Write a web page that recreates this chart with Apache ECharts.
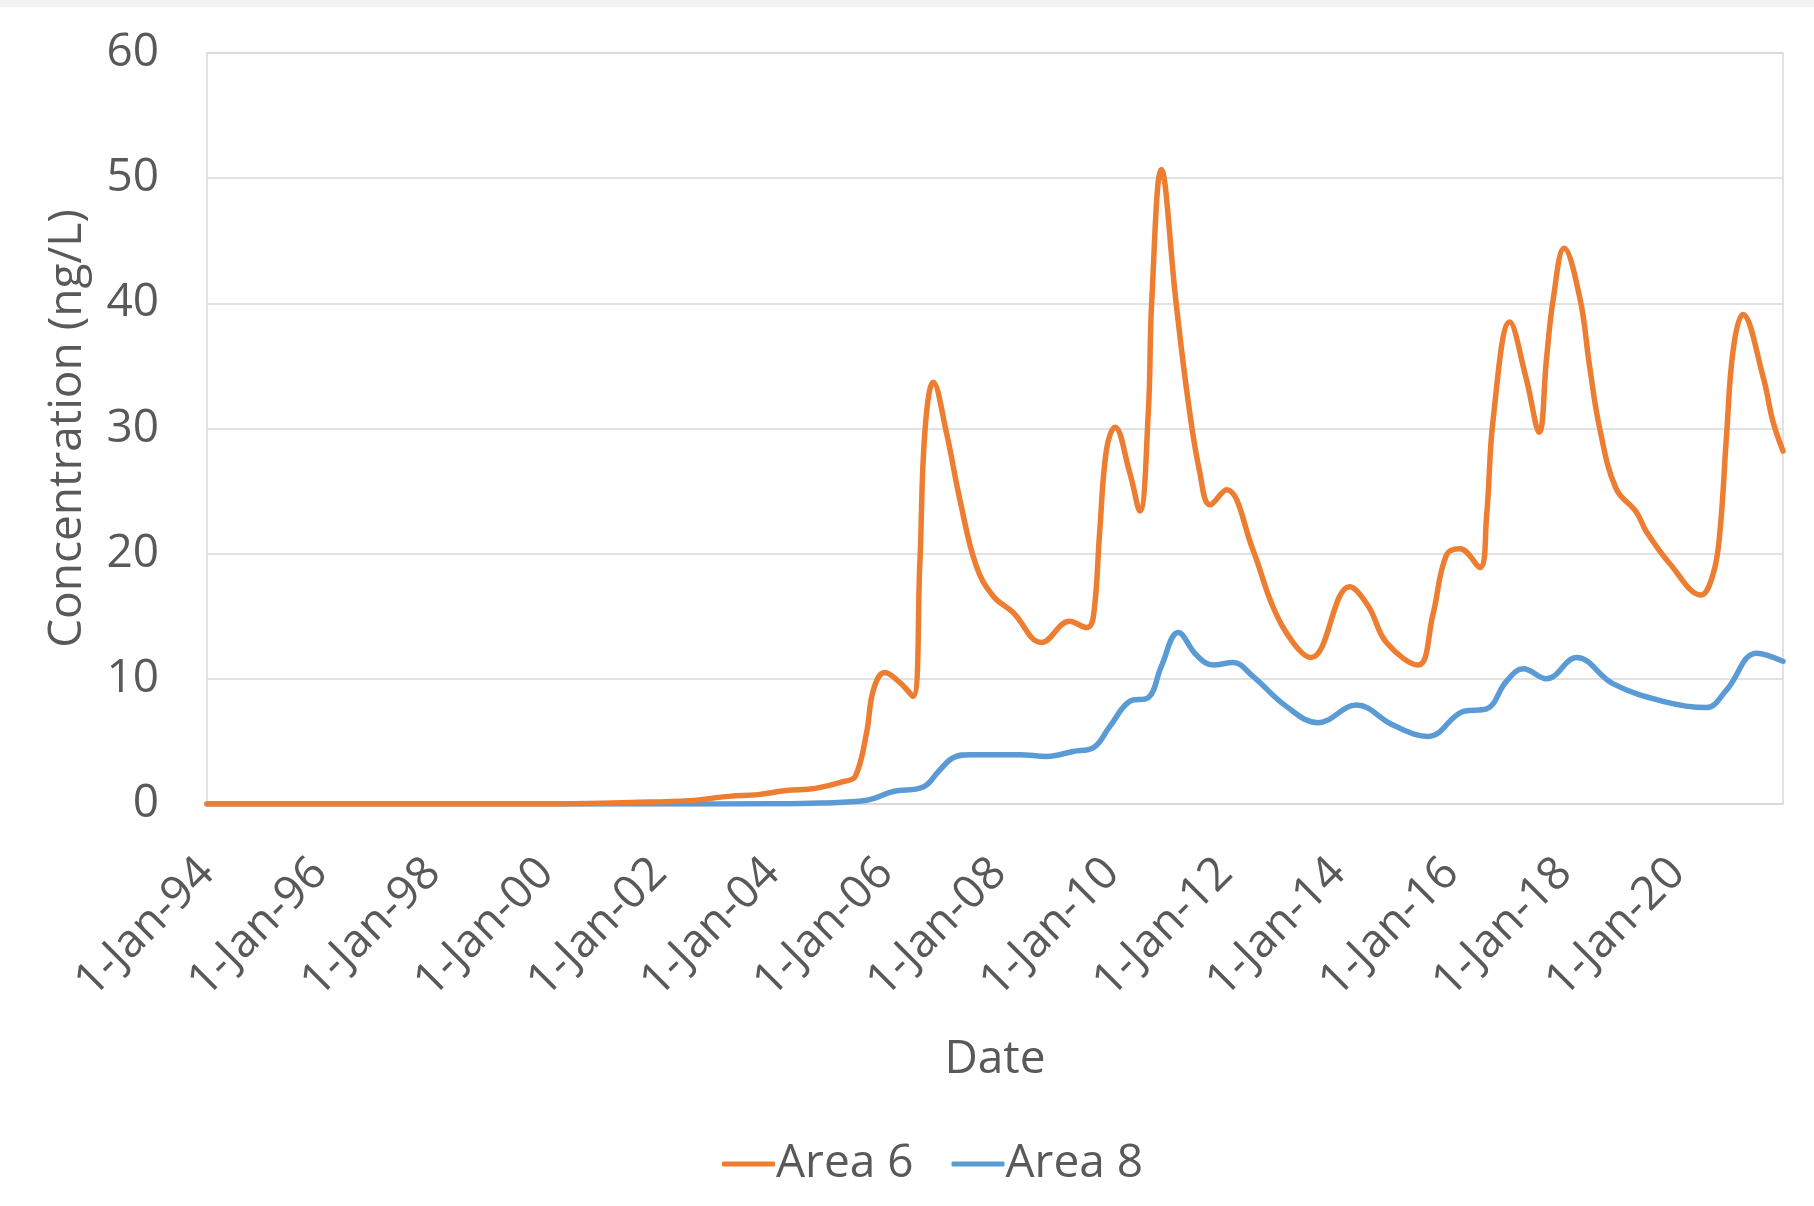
<!DOCTYPE html>
<html>
<head>
<meta charset="utf-8">
<title>Concentration over time</title>
<script src="https://cdn.jsdelivr.net/npm/echarts@6/dist/echarts.min.js"></script>
<style>
  html, body { margin: 0; padding: 0; background: #ffffff; }
  #chart { width: 1814px; height: 1206px; }
</style>
</head>
<body>
<div id="chart"></div>
<script>
// Sampling dates as decimal years, with concentrations in ng/L
const area6Years = [1994.0, 1996.0, 1998.0, 2000.0, 2000.5, 2001.5, 2002.52, 2003.23, 2003.74, 2004.24,
  2004.75, 2005.26, 2005.46, 2005.66, 2005.78, 2005.98, 2006.25, 2006.48, 2006.6, 2006.69,
  2006.84, 2007.07, 2007.31, 2007.6, 2007.9, 2008.25, 2008.75, 2009.25, 2009.55, 2009.67,
  2009.78, 2009.9, 2010.05, 2010.31, 2010.49, 2010.64, 2010.7, 2010.87, 2011.13, 2011.35,
  2011.55, 2011.73, 2012.02, 2012.49, 2012.84, 2013.2, 2013.52, 2014.2, 2014.53, 2014.85,
  2015.41, 2015.67, 2015.91, 2016.15, 2016.5, 2016.62, 2016.74, 2017.03, 2017.32, 2017.55,
  2017.68, 2017.8, 2017.99, 2018.27, 2018.44, 2018.62, 2018.91, 2019.27, 2019.44, 2019.86,
  2020.41, 2020.62, 2020.74, 2020.86, 2020.98, 2021.15, 2021.51, 2021.68, 2021.86];
const area6Values = [0, 0, 0, 0, 0.02, 0.12, 0.27, 0.61, 0.75, 1.07,
  1.25, 1.8, 2.2, 5.7, 9.1, 10.5, 9.7, 8.6, 19.0, 29.7,
  33.7, 29.7, 24.3, 19.0, 16.6, 15.3, 12.9, 14.6, 14.1, 15.0,
  21.7, 28.3, 30.1, 26.5, 23.4, 31.3, 40.1, 50.7, 40.1, 32.0,
  26.5, 23.9, 25.1, 20.3, 15.8, 12.9, 11.7, 17.35, 15.8, 12.9,
  11.1, 15.1, 19.9, 20.4, 18.9, 23.0, 30.9, 38.5, 34.0, 29.7,
  35.6, 40.4, 44.4, 40.4, 35.0, 30.0, 25.2, 23.3, 21.8, 19.2,
  16.7, 18.3, 21.5, 29.3, 36.3, 39.1, 34.1, 30.6, 28.2];

const area8Years = [1994.0, 1998.0, 2002.0, 2004.0, 2004.83, 2005.66, 2006.13, 2006.66, 2006.95, 2007.19,
  2007.49, 2008.37, 2008.84, 2009.31, 2009.67, 2009.96, 2010.31, 2010.64, 2010.87, 2011.17,
  2011.49, 2011.79, 2012.14, 2012.49, 2013.08, 2013.64, 2014.32, 2014.97, 2015.59, 2016.21,
  2016.62, 2016.97, 2017.27, 2017.68, 2018.21, 2018.86, 2019.74, 2020.5, 2020.86, 2021.39,
  2021.86];
const area8Values = [0, 0, 0, 0.02, 0.08, 0.3, 1.0, 1.36, 2.7, 3.7,
  3.94, 3.94, 3.8, 4.2, 4.5, 6.2, 8.2, 8.5, 11.0, 13.7,
  11.9, 11.1, 11.3, 10.2, 7.8, 6.5, 7.9, 6.3, 5.4, 7.4,
  7.6, 9.8, 10.8, 10.0, 11.7, 9.6, 8.2, 7.7, 9.1, 12.05,
  11.4];

const seriesNames = ['Area 6', 'Area 8'];
const yTicks = [0, 10, 20, 30, 40, 50, 60];
const xStart = 1994;
const xEnd = 2021.86;

const pair = (xs, ys) => xs.map((x, i) => [x, ys[i]]);

const textColor = '#595959';
const fontFamily = '"Open Sans", "Noto Sans", sans-serif';
const gridColor = '#d9d9d9';

const chart = echarts.init(document.getElementById('chart'), null, { renderer: 'canvas' });

chart.setOption({
  backgroundColor: '#ffffff',
  animation: false,
  graphic: [{
    type: 'rect',
    left: 0, top: 0,
    shape: { width: 1814, height: 7 },
    style: { fill: '#f2f2f2' }
  }],
  grid: {
    left: 207, right: 31, top: 53, bottom: 402,
    show: true,
    borderColor: gridColor,
    borderWidth: 1.5
  },
  legend: {
    data: seriesNames,
    left: 717,
    top: 1136,
    itemWidth: 53,
    itemHeight: 5,
    itemGap: 38,
    icon: 'roundRect',
    textStyle: { color: textColor, fontSize: 46, fontFamily: fontFamily, padding: [0, 0, 0, -4] }
  },
  xAxis: {
    type: 'value',
    min: xStart,
    max: xEnd,
    interval: 2,
    name: 'Date',
    nameLocation: 'middle',
    nameGap: 233,
    nameTextStyle: { color: textColor, fontSize: 46, fontFamily: fontFamily },
    axisLine: { show: true, lineStyle: { color: gridColor, width: 1.5 } },
    axisTick: { show: false },
    splitLine: { show: false },
    axisLabel: {
      rotate: 45,
      margin: 62,
      showMaxLabel: false,
      color: textColor,
      fontSize: 46,
      fontFamily: fontFamily,
      formatter: v => {
        const y = Math.round(v);
        if (Math.abs(v - y) > 1e-6 || y % 2 !== 0) return '';
        return '1-Jan-' + String(y % 100).padStart(2, '0');
      }
    }
  },
  yAxis: {
    type: 'value',
    min: yTicks[0],
    max: yTicks[yTicks.length - 1],
    interval: 10,
    name: 'Concentration (ng/L)',
    nameLocation: 'middle',
    nameGap: 116,
    nameTextStyle: { color: textColor, fontSize: 46, fontFamily: fontFamily },
    axisLine: { show: false },
    axisTick: { show: false },
    splitLine: { show: true, lineStyle: { color: gridColor, width: 1.5 } },
    axisLabel: { color: textColor, fontSize: 46, fontFamily: fontFamily, margin: 48 }
  },
  series: [
    {
      name: seriesNames[0],
      type: 'line',
      data: pair(area6Years, area6Values),
      smooth: 0.4,
      showSymbol: false,
      symbol: 'none',
      z: 3,
      color: '#ED7D31',
      lineStyle: { color: '#ED7D31', width: 5.5, cap: 'round', join: 'round' }
    },
    {
      name: seriesNames[1],
      type: 'line',
      data: pair(area8Years, area8Values),
      smooth: 0.4,
      showSymbol: false,
      symbol: 'none',
      z: 2,
      color: '#5B9BD5',
      lineStyle: { color: '#5B9BD5', width: 5.5, cap: 'round', join: 'round' }
    }
  ]
});
</script>
</body>
</html>
